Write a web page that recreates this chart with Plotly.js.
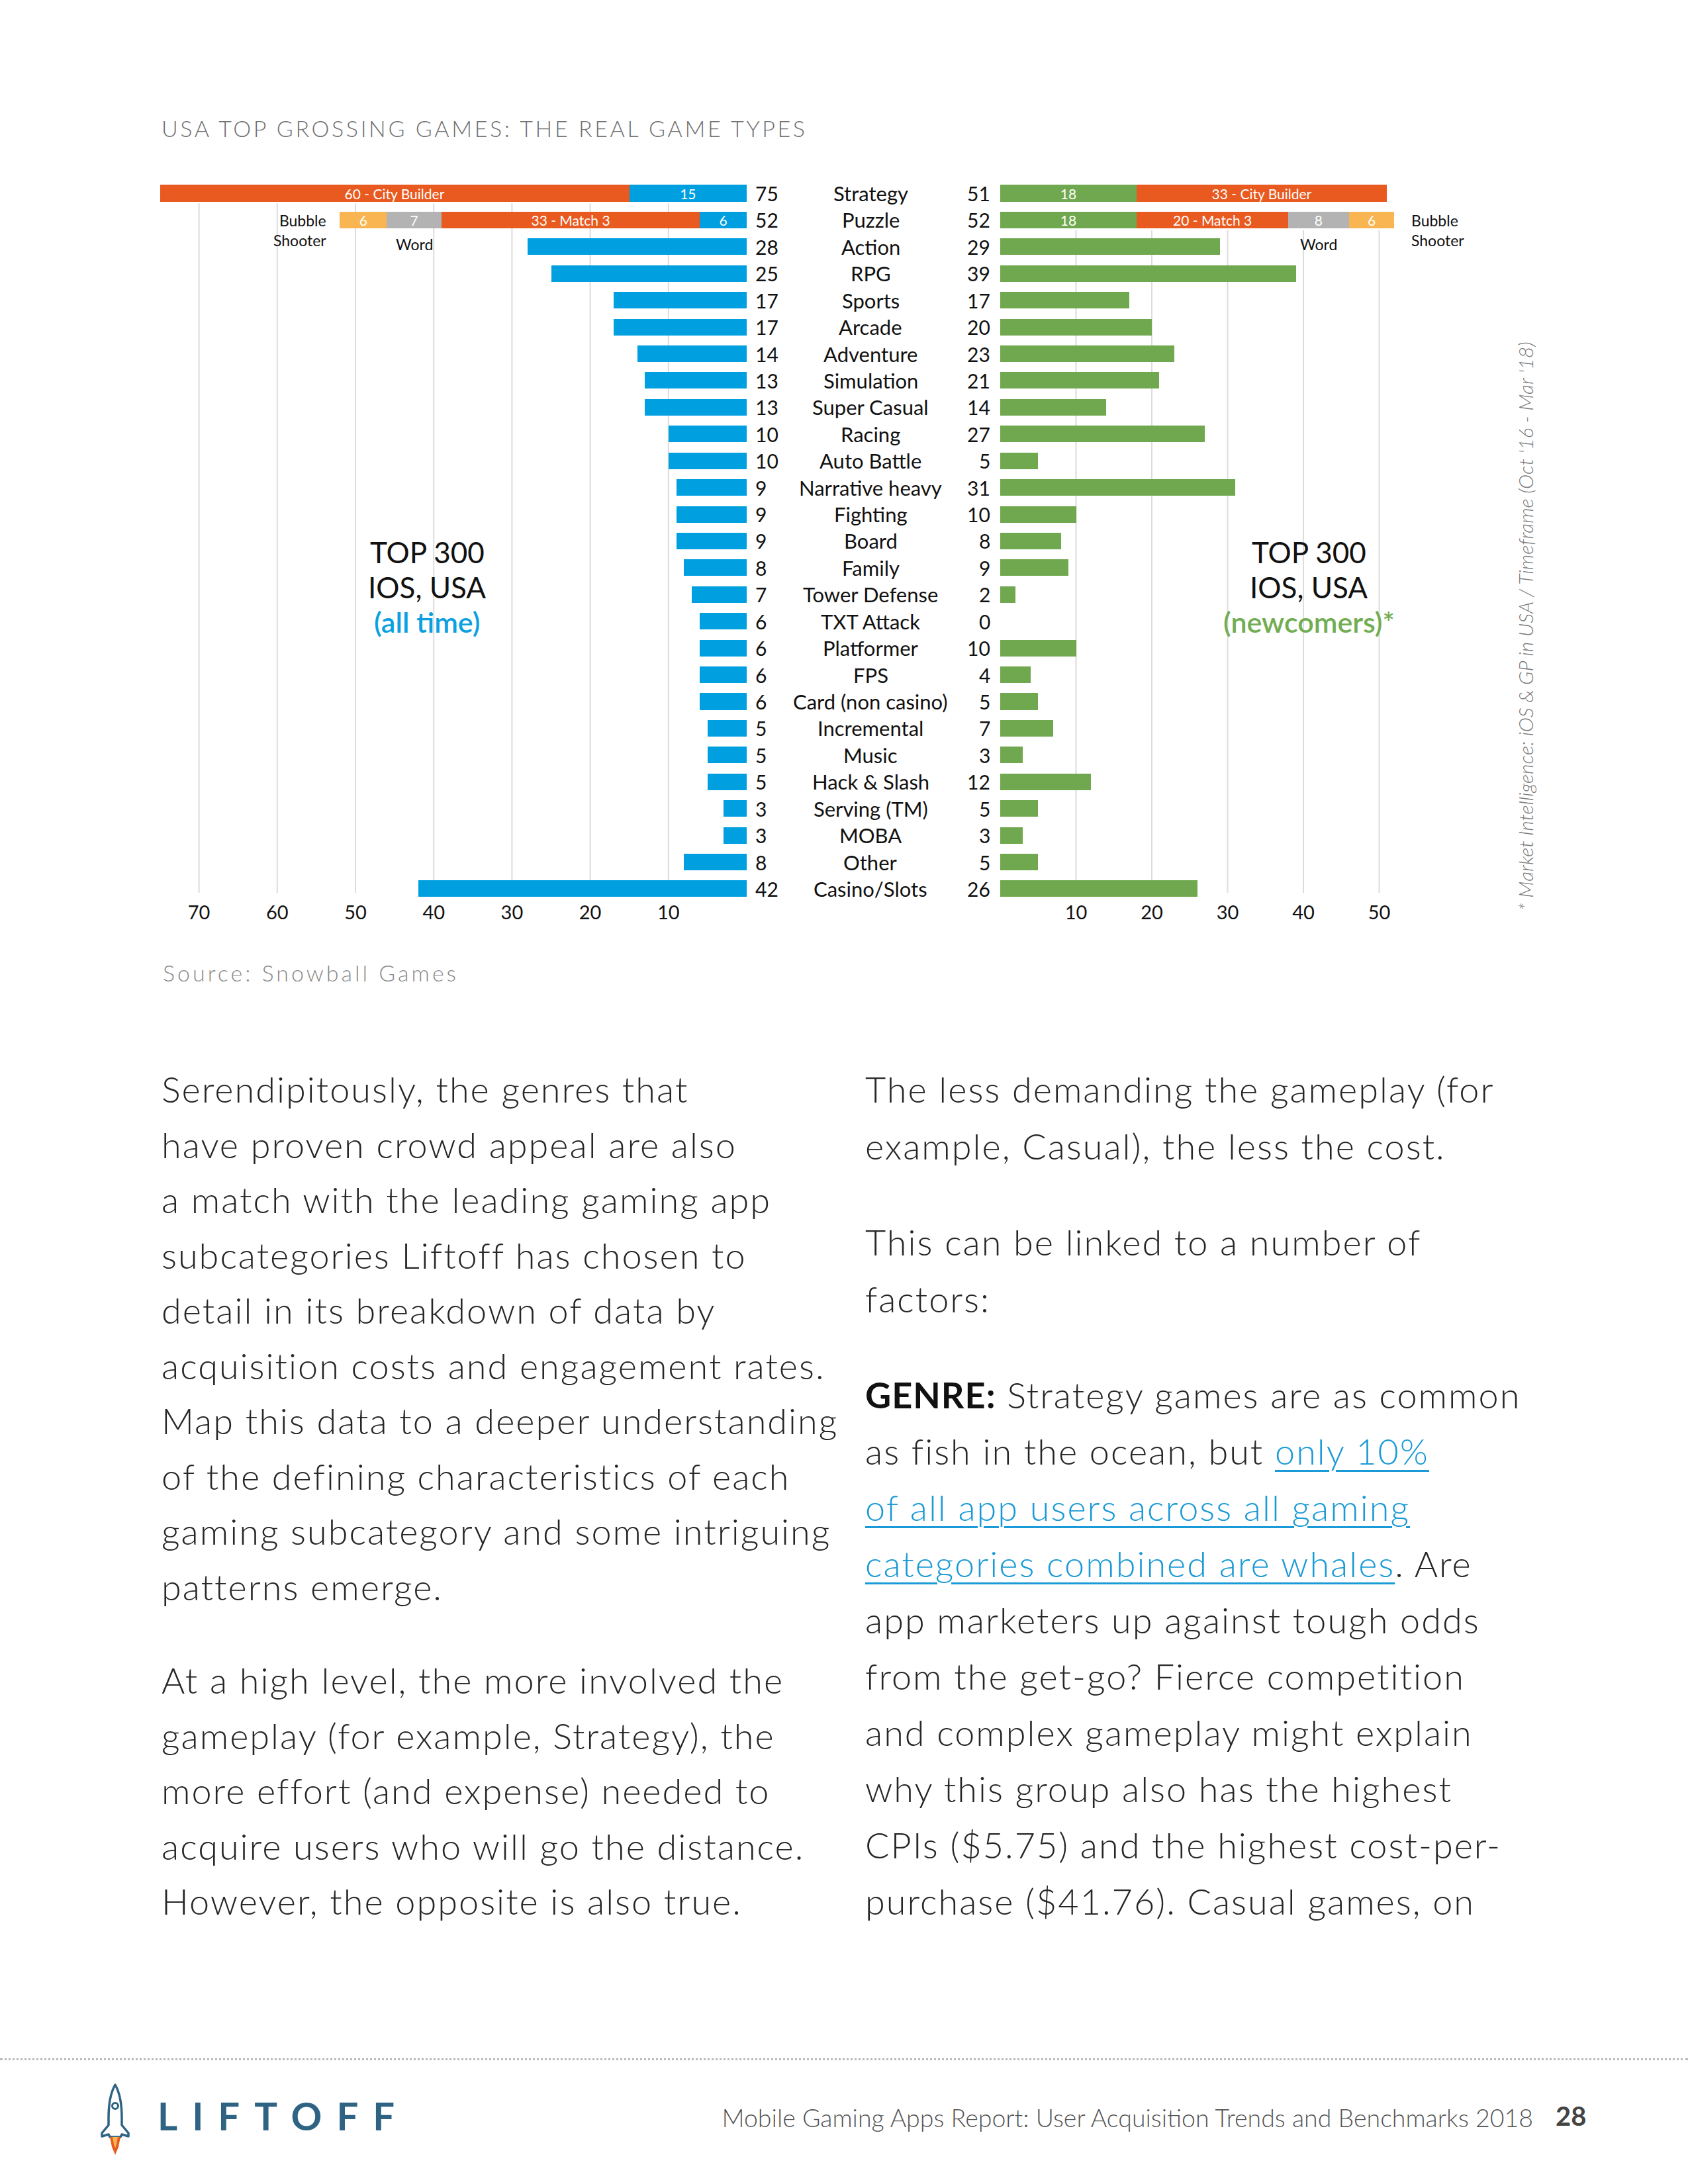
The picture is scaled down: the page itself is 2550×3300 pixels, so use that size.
<!DOCTYPE html>
<html>
<head>
<meta charset="utf-8">
<script src="https://cdn.plot.ly/plotly-3.0.1.min.js"></script>
<style>
  html, body { margin:0; padding:0; background:#fff; }
  body { width:2550px; height:3300px; position:relative; overflow:hidden; font-family: Lato, "Open Sans", sans-serif; }
  #chart { position:absolute; left:0; top:0; width:2550px; height:1550px; }
  .col { position:absolute; white-space:nowrap; color:#262626; font-size:54px; font-weight:300; letter-spacing:2px; }
  .col b { font-weight:700; color:#111; letter-spacing:1px; }
  .col a { color:#1a9ad6; text-decoration:underline; text-decoration-thickness:3px; text-underline-offset:8px; }
  #dots { position:absolute; left:0; top:3110px; width:2550px; height:0; border-top:3px dotted #b8b8b8; }
  #logo { position:absolute; left:238px; top:3168px; font-size:58px; font-weight:700; color:#2f6384; letter-spacing:22px; line-height:1; }
  #foot { position:absolute; right:234px; top:3181px; font-size:37.5px; font-weight:300; color:#555; line-height:1; }
  #page { position:absolute; left:2350px; top:3177px; font-size:40px; font-weight:700; color:#444; line-height:1; }
  #rocket { position:absolute; left:144px; top:3148px; }
</style>
</head>
<body>
<div id="chart"></div>

<div class="col" style="left:244px; top:1604px; line-height:83.5px;">
Serendipitously, the genres that<br>
have proven crowd appeal are also<br>
a match with the leading gaming app<br>
subcategories Liftoff has chosen to<br>
detail in its breakdown of data by<br>
acquisition costs and engagement rates.<br>
Map this data to a deeper understanding<br>
of the defining characteristics of each<br>
gaming subcategory and some intriguing<br>
patterns emerge.
</div>
<div class="col" style="left:244px; top:2497px; line-height:83.5px;">
At a high level, the more involved the<br>
gameplay (for example, Strategy), the<br>
more effort (and expense) needed to<br>
acquire users who will go the distance.<br>
However, the opposite is also true.
</div>

<div class="col" style="left:1307px; top:1603px; line-height:86px;">
The less demanding the gameplay (for<br>
example, Casual), the less the cost.
</div>
<div class="col" style="left:1307px; top:1834px; line-height:86px;">
This can be linked to a number of<br>
factors:
</div>
<div class="col" style="left:1307px; top:2065px; line-height:85px;">
<b>GENRE:</b> Strategy games are as common<br>
as fish in the ocean, but <a>only 10% </a><br>
<a>of all app users across all gaming </a><br>
<a>categories combined are whales</a>. Are<br>
app marketers up against tough odds<br>
from the get-go? Fierce competition<br>
and complex gameplay might explain<br>
why this group also has the highest<br>
CPIs ($5.75) and the highest cost-per-<br>
purchase ($41.76). Casual games, on
</div>

<div id="dots"></div>
<svg id="rocket" width="60" height="110" viewBox="0 0 60 110">
  <path d="M30,2 C38,16 40,32 40,52 L40,63 L50,75 L50,80 L40,77 L38,81 L22,81 L20,77 L10,80 L10,75 L20,63 L20,52 C20,32 22,16 30,2 Z" fill="#fff" stroke="#2f6384" stroke-width="3.5" stroke-linejoin="round"/>
  <circle cx="30" cy="34" r="4.5" fill="#fff" stroke="#2f6384" stroke-width="3"/>
  <path d="M22,81 L38,81 L35,96 L30,108 L25,96 Z" fill="#e95a20"/>
  <path d="M26,81 L34,81 L32,92 L30,98 L28,92 Z" fill="#f8b551"/>
</svg>
<div id="logo">LIFTOFF</div>
<div id="foot">Mobile Gaming Apps Report: User Acquisition Trends and Benchmarks 2018</div>
<div id="page">28</div>

<script>
// ---------------- DATA ----------------
const categories = ["Strategy","Puzzle","Action","RPG","Sports","Arcade","Adventure","Simulation",
  "Super Casual","Racing","Auto Battle","Narrative heavy","Fighting","Board","Family","Tower Defense",
  "TXT Attack","Platformer","FPS","Card (non casino)","Incremental","Music","Hack & Slash",
  "Serving (TM)","MOBA","Other","Casino/Slots"];
const allTimeCounts  = [75,52,28,25,17,17,14,13,13,10,10,9,9,9,8,7,6,6,6,6,5,5,5,3,3,8,42];
const newcomerCounts = [51,52,29,39,17,20,23,21,14,27,5,31,10,8,9,2,0,10,4,5,7,3,12,5,3,5,26];
const subgenreNames   = ["City Builder","Match 3","Word","Bubble Shooter"];
const subgenreParents = ["Strategy","Puzzle","Puzzle","Puzzle"];
const allTimeSubgenre  = [60,33,7,6];
const newcomerSubgenre = [33,20,8,6];
const subgenreColors   = ["#E95A20","#E95A20","#B3B3B3","#F8B551"];
const subgenreNamedInside = [true,true,false,false];
const leftTicks  = [10,20,30,40,50,60,70];
const rightTicks = [10,20,30,40,50];

// ---------------- LAYOUT HELPERS ----------------
const W = 2550, H = 1550;
const FONT = 'Lato, "Open Sans", sans-serif';
const X = px => px / W;
const Y = py => 1 - py / H;
const BLUE = "#009FE0", GREEN = "#70A84F";

const leftZero = 1128, leftScale = 11.82, leftEnd = 200;
const rightZero = 1511, rightScale = 11.45, rightEnd = 2140;
const rowTop = 292, rowStep = 40.42, yMax = 26.4;

function baseValues(counts, sub) {
  return counts.map((v, i) => {
    let s = 0;
    subgenreParents.forEach((p, j) => { if (p === categories[i]) s += sub[j]; });
    return v - s;
  });
}
function hasSub(cat) { return subgenreParents.indexOf(cat) >= 0; }

const segFont = { family: FONT, size: 21, color: "#fff", weight: 400 };

function buildTraces(counts, sub, baseColor, xa) {
  const base = baseValues(counts, sub);
  const traces = [{
    type: "bar", orientation: "h", xaxis: xa, yaxis: "y",
    y: categories, x: base,
    marker: { color: baseColor, line: { width: 0 } },
    text: base.map((v, i) => hasSub(categories[i]) ? String(v) : ""),
    textposition: "inside", insidetextanchor: "middle", textangle: 0, constraintext: "none",
    textfont: segFont, insidetextfont: segFont,
    hoverinfo: "skip", showlegend: false
  }];
  subgenreNames.forEach((name, j) => {
    const xs = categories.map(c => c === subgenreParents[j] ? sub[j] : null);
    const label = subgenreNamedInside[j] ? sub[j] + " - " + name : String(sub[j]);
    traces.push({
      type: "bar", orientation: "h", xaxis: xa, yaxis: "y",
      y: categories, x: xs,
      marker: { color: subgenreColors[j], line: { width: 0 } },
      text: categories.map(c => c === subgenreParents[j] ? label : ""),
      textposition: "inside", insidetextanchor: "middle", textangle: 0, constraintext: "none",
      textfont: segFont, insidetextfont: segFont,
      hoverinfo: "skip", showlegend: false
    });
  });
  return traces;
}

const data = [].concat(
  buildTraces(allTimeCounts, allTimeSubgenre, BLUE, "x"),
  buildTraces(newcomerCounts, newcomerSubgenre, GREEN, "x2")
);

// gridlines as shapes (below bars)
const shapes = [];
leftTicks.forEach(t => shapes.push({ type: "line", layer: "below", xref: "x", yref: "y",
  x0: t, x1: t, y0: 0.38, y1: 26.15, line: { color: "#dcdcdc", width: 2 } }));
rightTicks.forEach(t => shapes.push({ type: "line", layer: "below", xref: "x2", yref: "y",
  x0: t, x1: t, y0: 1.38, y1: 26.15, line: { color: "#dcdcdc", width: 2 } }));

const annotations = [];
categories.forEach((c, i) => {
  annotations.push({ xref: "paper", yref: "y", x: X(1315), y: c, text: c, showarrow: false,
    xanchor: "center", yanchor: "middle", font: { family: FONT, size: 31, color: "#111" } });
  annotations.push({ xref: "paper", yref: "y", x: X(1139), y: c, text: String(allTimeCounts[i]), showarrow: false,
    xanchor: "left", yanchor: "middle", font: { family: FONT, size: 30, color: "#111" } });
  annotations.push({ xref: "paper", yref: "y", x: X(1498), y: c, text: String(newcomerCounts[i]), showarrow: false,
    xanchor: "right", yanchor: "middle", font: { family: FONT, size: 30, color: "#111" } });
});

// external sub-genre labels (Word, Bubble Shooter)
function segCenter(counts, sub, j) {
  const parent = subgenreParents[j];
  const idx = categories.indexOf(parent);
  const base = baseValues(counts, sub)[idx];
  let start = base;
  for (let k = 0; k < j; k++) if (subgenreParents[k] === parent) start += sub[k];
  return { center: start + sub[j] / 2, end: start + sub[j] };
}
subgenreNames.forEach((name, j) => {
  if (subgenreNamedInside[j]) return;
  const L = segCenter(allTimeCounts, allTimeSubgenre, j);
  const R = segCenter(newcomerCounts, newcomerSubgenre, j);
  const outer = (j === subgenreNames.length - 1);
  const txt = name.replace(" ", "<br>");
  if (outer) {
    annotations.push({ xref: "x", yref: "y", x: L.end, y: subgenreParents[j], text: txt, showarrow: false,
      xanchor: "right", yanchor: "middle", align: "right", xshift: -18, yshift: -16,
      font: { family: FONT, size: 23, color: "#111" } });
    annotations.push({ xref: "x2", yref: "y", x: R.end, y: subgenreParents[j], text: txt, showarrow: false,
      xanchor: "left", yanchor: "middle", align: "left", xshift: 24, yshift: -16,
      font: { family: FONT, size: 23, color: "#111" } });
  } else {
    annotations.push({ xref: "x", yref: "y", x: L.center, y: subgenreParents[j], text: txt, showarrow: false,
      xanchor: "center", yanchor: "middle", yshift: -37, font: { family: FONT, size: 23, color: "#111" } });
    annotations.push({ xref: "x2", yref: "y", x: R.center, y: subgenreParents[j], text: txt, showarrow: false,
      xanchor: "center", yanchor: "middle", yshift: -37, font: { family: FONT, size: 23, color: "#111" } });
  }
});

// panel captions
const capLines = [["TOP 300", "#111", 400], ["IOS, USA", "#111", 400]];
[[645, "(all time)", "#0BA0E0"], [1977, "(newcomers)*", "#72AD52"]].forEach(([cx, sub, col]) => {
  capLines.forEach(([t, c, w], k) => annotations.push({ xref: "paper", yref: "paper", x: X(cx), y: Y(834 + k * 53),
    text: t, showarrow: false, xanchor: "center", yanchor: "middle", font: { family: FONT, size: 44, color: c, weight: w } }));
  annotations.push({ xref: "paper", yref: "paper", x: X(cx), y: Y(939), text: sub, showarrow: false,
    xanchor: "center", yanchor: "middle", font: { family: FONT, size: 43, color: col, weight: 600 } });
});

// side note and source
annotations.push({ xref: "paper", yref: "paper", x: X(2304), y: Y(946), textangle: -90,
  text: "* Market Intelligence: iOS &amp; GP in USA / Timeframe (Oct '16 - Mar '18)", showarrow: false,
  xanchor: "center", yanchor: "middle", font: { family: FONT, size: 30, color: "#7b7b7b", style: "italic", weight: 300 } });
annotations.push({ xref: "paper", yref: "paper", x: X(244), y: Y(1469), showarrow: false,
  text: '<span style="letter-spacing:4px">Source: Snowball Games</span>',
  xanchor: "left", yanchor: "middle", font: { family: FONT, size: 34, color: "#8a8a8a", weight: 300 } });

const axisCommon = { showgrid: false, zeroline: false, showline: false, ticks: "", anchor: "y",
  tickfont: { family: FONT, size: 29, color: "#111" }, fixedrange: true };

const layout = {
  width: W, height: H,
  margin: { l: 0, r: 0, t: 0, b: 0, pad: 0 },
  paper_bgcolor: "#fff", plot_bgcolor: "rgba(0,0,0,0)",
  barmode: "stack", bargap: 0.38,
  title: { text: '<span style="letter-spacing:3.6px">USA TOP GROSSING GAMES: THE REAL GAME TYPES</span>',
    x: X(244), xanchor: "left", y: Y(195), yanchor: "middle",
    font: { family: FONT, size: 34, color: "#707070", weight: 300 } },
  xaxis: Object.assign({}, axisCommon, {
    domain: [X(leftEnd), X(leftZero)],
    range: [(leftZero - leftEnd) / leftScale, 0],
    tickvals: leftTicks, ticktext: leftTicks.map(String) }),
  xaxis2: Object.assign({}, axisCommon, {
    domain: [X(rightZero), X(rightEnd)],
    range: [0, (rightEnd - rightZero) / rightScale],
    tickvals: rightTicks, ticktext: rightTicks.map(String) }),
  yaxis: { type: "category", categoryarray: categories, categoryorder: "array",
    range: [yMax, -0.5], domain: [Y(rowTop + yMax * rowStep), Y(rowTop - 0.5 * rowStep)],
    showticklabels: false, showgrid: false, zeroline: false, showline: false, ticks: "", fixedrange: true },
  shapes: shapes,
  annotations: annotations,
  showlegend: false
};

Plotly.newPlot("chart", data, layout, { displayModeBar: false, staticPlot: true });
</script>
</body>
</html>
